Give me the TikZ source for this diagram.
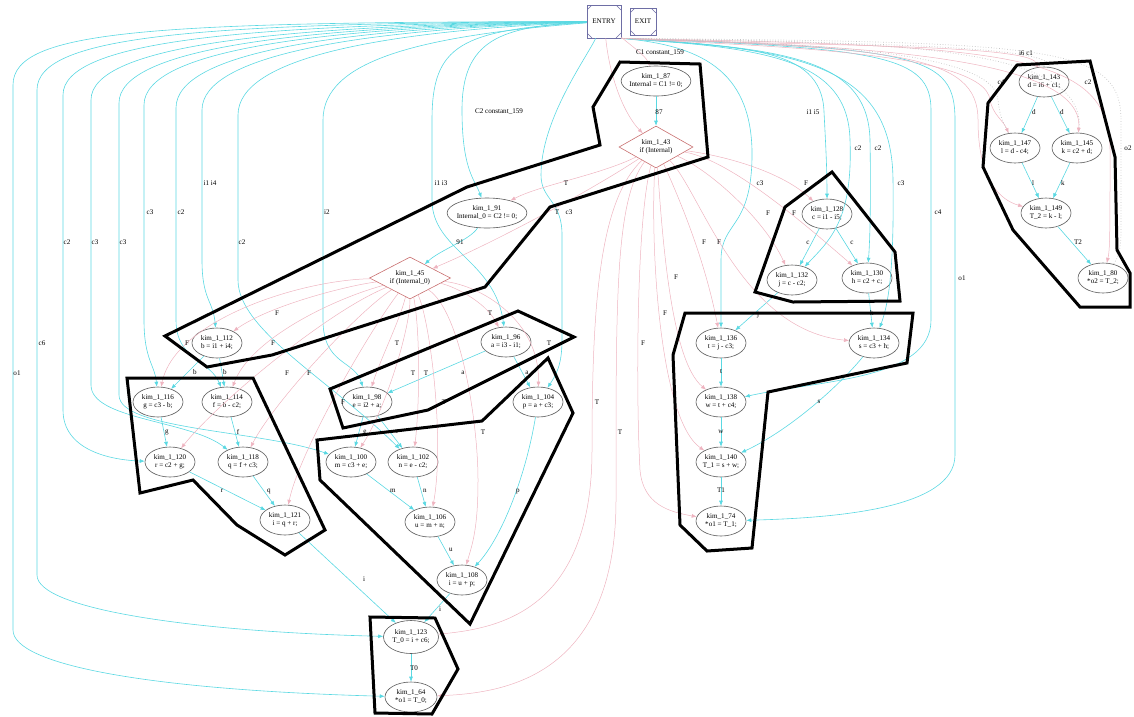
\documentclass[tikz,border=0pt]{standalone}
\usepackage{fontspec}
\setmainfont{Liberation Serif}
\usetikzlibrary{shapes.geometric,arrows.meta}
\definecolor{cyl}{RGB}{90,216,226}
\definecolor{pnk}{RGB}{238,180,192}
\definecolor{ebox}{RGB}{110,110,165}
\definecolor{dia}{RGB}{200,110,110}
\definecolor{ell}{RGB}{90,90,90}
\definecolor{dotg}{RGB}{195,195,195}
\begin{document}
\begin{tikzpicture}[x=1pt,y=-1pt,
 every node/.style={font=\fontsize{7.1}{8}\selectfont},
 stmt/.style={ellipse,draw=ell,line width=0.6pt,minimum width=50pt,minimum height=30pt,inner xsep=-2pt,inner ysep=0pt,align=center},
 cnd/.style={diamond,draw=dia,line width=0.6pt,aspect=2,minimum width=74pt,minimum height=42pt,inner sep=-2pt,align=center},
 msq/.style={rectangle,draw=ebox,line width=0.7pt,inner sep=0pt,
   path picture={\draw[ebox,line width=0.5pt]
     ([yshift=-5pt]path picture bounding box.north west) -- ([xshift=5pt]path picture bounding box.north west)
     ([yshift=-5pt]path picture bounding box.north east) -- ([xshift=-5pt]path picture bounding box.north east)
     ([yshift=5pt]path picture bounding box.south west) -- ([xshift=5pt]path picture bounding box.south west)
     ([yshift=5pt]path picture bounding box.south east) -- ([xshift=-5pt]path picture bounding box.south east);}},
 cy/.style={draw=cyl,line width=0.6pt,-{Latex[length=5pt,width=4pt]}},
 pk/.style={draw=pnk,line width=0.5pt,-{Latex[length=5pt,width=4pt]}},
 dt/.style={draw=dotg,line width=0.7pt,dotted},
 lbl/.style={inner sep=0pt},
 hull/.style={draw=black,line width=3pt,line join=miter}
]
\useasboundingbox (0,0) rectangle (1134,716);

% ---------- nodes ----------
\node[msq,minimum width=34pt,minimum height=33pt] (E) at (604,21.5) {ENTRY};
\node[msq,minimum width=26pt,minimum height=27pt] (X) at (643,21.5) {EXIT};

\node[stmt] (n87) at (656,81) {kim\_1\_87\\Internal = C1 != 0;};
\node[cnd] (n43) at (656,147) {kim\_1\_43\\if (Internal)};
\node[stmt] (n91) at (487,213) {kim\_1\_91\\Internal\_0 = C2 != 0;};
\node[cnd,minimum width=81pt] (n45) at (410,278) {kim\_1\_45\\if (Internal\_0)};

\node[stmt] (n96) at (506,342) {kim\_1\_96\\a = i3 - i1;};
\node[stmt] (n104) at (538,402) {kim\_1\_104\\p = a + c3;};
\node[stmt] (n98) at (367,402) {kim\_1\_98\\e = i2 + a;};
\node[stmt] (n112) at (217,343) {kim\_1\_112\\b = i1 + i4;};
\node[stmt] (n116) at (158,402) {kim\_1\_116\\g = c3 - b;};
\node[stmt] (n114) at (227,402) {kim\_1\_114\\f = b - c2;};
\node[stmt] (n120) at (170,462) {kim\_1\_120\\r = c2 + g;};
\node[stmt] (n118) at (243,462) {kim\_1\_118\\q = f + c3;};
\node[stmt] (n100) at (351,462) {kim\_1\_100\\m = c3 + e;};
\node[stmt] (n102) at (413,462) {kim\_1\_102\\n = e - c2;};
\node[stmt] (n121) at (285,520) {kim\_1\_121\\i = q + r;};
\node[stmt] (n106) at (430,522) {kim\_1\_106\\u = m + n;};
\node[stmt] (n108) at (462,580) {kim\_1\_108\\i = u + p;};
\node[stmt,minimum width=55pt,minimum height=33pt] (n123) at (411,637) {kim\_1\_123\\T\_0 = i + c6;};
\node[stmt,minimum width=52pt] (n64) at (411,697) {kim\_1\_64\\*o1 = T\_0;};

\node[stmt] (n128) at (827,214) {kim\_1\_128\\c = i1 - i5;};
\node[stmt] (n132) at (792,280) {kim\_1\_132\\j = c - c2;};
\node[stmt] (n130) at (867,278) {kim\_1\_130\\h = c2 + c;};
\node[stmt] (n134) at (874,343) {kim\_1\_134\\s = c3 + h;};
\node[stmt] (n136) at (721,343) {kim\_1\_136\\t = j - c3;};
\node[stmt] (n138) at (721,402) {kim\_1\_138\\w = t + c4;};
\node[stmt] (n140) at (721,462) {kim\_1\_140\\T\_1 = s + w;};
\node[stmt] (n74) at (721,521) {kim\_1\_74\\*o1 = T\_1;};

\node[stmt] (n143) at (1044,82) {kim\_1\_143\\d = i6 + c1;};
\node[stmt] (n147) at (1015,148) {kim\_1\_147\\l = d - c4;};
\node[stmt] (n145) at (1077,148) {kim\_1\_145\\k = c2 + d;};
\node[stmt] (n149) at (1046,213) {kim\_1\_149\\T\_2 = k - l;};
\node[stmt] (n80) at (1103,278) {kim\_1\_80\\*o2 = T\_2;};

% ---------- data edges from ENTRY (left) ----------
\draw[cy] (E) .. controls (150,22) and (13,30) .. (13,85) -- (13,630) .. controls (13,665) and (150,690) .. (n64) node[lbl,at={(17,373)}]{o1};
\draw[cy] (E) .. controls (200,23) and (37,35) .. (37,90) -- (37,575) .. controls (37,610) and (200,632) .. (n123) node[lbl,at={(42,343)}]{c6};
\draw[cy] (E) .. controls (250,24) and (63,40) .. (63,95) -- (63,410) .. controls (63,450) and (110,460) .. (n120) node[lbl,at={(67,242)}]{c2};
\draw[cy] (E) .. controls (280,25) and (91,45) .. (91,100) -- (91,385) .. controls (91,420) and (190,420) .. (n118) node[lbl,at={(95,242)}]{c3};
\draw[cy] (E) .. controls (300,26) and (119,48) .. (119,103) -- (119,395) .. controls (119,430) and (260,430) .. (n100) node[lbl,at={(123,242)}]{c3};
\draw[cy] (E) .. controls (320,27) and (144,50) .. (144,105) -- (144,320) .. controls (144,360) and (155,365) .. (n116) node[lbl,at={(150,212)}]{c3};
\draw[cy] (E) .. controls (340,28) and (176,52) .. (176,108) -- (176,320) .. controls (176,360) and (210,360) .. (n114) node[lbl,at={(181,212)}]{c2};
\draw[cy] (E) .. controls (360,29) and (202,55) .. (202,110) -- (202,260) .. controls (202,300) and (213,300) .. (n112) node[lbl,at={(210,183)}]{i1 i4};
\draw[cy] (E) .. controls (380,31) and (238,58) .. (238,115) -- (238,280) .. controls (238,330) and (330,380) .. (n102) node[lbl,at={(242,242)}]{c2};
\draw[cy] (E) .. controls (420,36) and (323,60) .. (323,120) -- (323,320) .. controls (323,365) and (355,360) .. (n98) node[lbl,at={(327,212)}]{i2};

\draw[cy] (E) .. controls (500,26) and (462,40) .. (462,110) .. controls (462,170) and (475,180) .. (n91) node[lbl,at={(499,112)}]{C2 constant\_159};
\draw[cy] (E) .. controls (460,30) and (432,45) .. (432,120) -- (432,200) .. controls (432,250) and (495,260) .. (n96) node[lbl,at={(441,183)}]{i1 i3};
\draw[cy] (E) .. controls (585,60) and (541,120) .. (541,175) .. controls (541,200) and (562,200) .. (562,235) -- (562,340) .. controls (562,365) and (556,375) .. (n104) node[lbl,at={(569,212)}]{c3};

% ---------- data edges from ENTRY (right) ----------
\draw[cy] (E.south east) .. controls (740,48) and (822,45) .. (824,112) .. controls (826,150) and (827,170) .. (n128) node[lbl,at={(813,112)}]{i1 i5};
\draw[cy] (E.south east) .. controls (770,48) and (848,60) .. (850,140) .. controls (853,220) and (830,240) .. (n132) node[lbl,at={(858,148)}]{c2};
\draw[cy] (E.south east) .. controls (790,48) and (868,60) .. (870,140) .. controls (871,200) and (870,240) .. (n130) node[lbl,at={(878,148)}]{c2};
\draw[cy] (E.south east) .. controls (810,48) and (892,70) .. (893,180) .. controls (894,260) and (890,300) .. (n134) node[lbl,at={(901,183)}]{c3};
\draw[cy] (E.south east) .. controls (880,48) and (931,55) .. (931,110) -- (931,320) .. controls (931,380) and (820,380) .. (n138) node[lbl,at={(938,212)}]{c4};
\draw[cy] (E.south east) .. controls (920,48) and (955,55) .. (955,120) -- (955,455) .. controls (955,510) and (830,518) .. (n74) node[lbl,at={(962,278)}]{o1};
\draw[cy] (E.south east) .. controls (700,45) and (750,70) .. (752,150) .. controls (753,230) and (721,220) .. (721,260) -- (n136) node[lbl,at={(760,183)}]{c3};

% ---------- control edges from ENTRY ----------
\draw[pk] (E) .. controls (630,45) and (645,55) .. (n87) node[lbl,at={(660,53)}]{C1 constant\_159};
\draw[pk] (E) .. controls (610,80) and (625,115) .. (n43);
\draw[pk] (E.south east) .. controls (800,46) and (1028,44) .. (n143);
\draw[pk] (E.south east) .. controls (750,46) and (985,50) .. (990,100) .. controls (993,115) and (1003,120) .. (n147);
\draw[pk] (E.south east) .. controls (850,45) and (1085,55) .. (n145);
\draw[pk] (E.south east) .. controls (900,48) and (978,55) .. (978,120) .. controls (978,180) and (1000,200) .. (n149);
\draw[pk] (E.south east) .. controls (1000,46) and (1110,50) .. (1110,150) .. controls (1110,230) and (1110,250) .. (n80);

% ---------- dotted edges to right group ----------
\draw[dt] (E.south east) .. controls (720,43) and (1060,40) .. (n143) node[lbl,at={(1026,53)}]{i6 c1};
\draw[dt] (E.south east) .. controls (760,43) and (995,45) .. (998,100) .. controls (1000,120) and (1005,125) .. (n147) node[lbl,at={(1001,82)}]{c4};
\draw[dt] (E.south east) .. controls (900,42) and (1090,45) .. (n145) node[lbl,at={(1088,82)}]{c2};
\draw[dt] (E.south east) .. controls (1050,42) and (1121,45) .. (1121,120) -- (1121,230) .. controls (1121,250) and (1118,258) .. (n80) node[lbl,at={(1128,148)}]{o2};

% ---------- internal data edges ----------
\draw[cy] (n87) -- (n43) node[lbl,at={(659,112)}]{87};
\draw[cy] (n91) .. controls (470,240) and (440,250) .. (n45) node[lbl,at={(460,242)}]{91};
\draw[cy] (n112) -- (n116) node[lbl,at={(195,372)}]{b};
\draw[cy] (n112) -- (n114) node[lbl,at={(225,372)}]{b};
\draw[cy] (n116) -- (n120) node[lbl,at={(167,432)}]{g};
\draw[cy] (n114) -- (n118) node[lbl,at={(238,432)}]{f};
\draw[cy] (n120) -- (n121) node[lbl,at={(222,491)}]{r};
\draw[cy] (n118) -- (n121) node[lbl,at={(269,492)}]{q};
\draw[cy] (n121) -- (n123) node[lbl,at={(364,579)}]{i};
\draw[cy] (n96) -- (n98) node[lbl,at={(463,373)}]{a};
\draw[cy] (n96) -- (n104) node[lbl,at={(527,373)}]{a};
\draw[cy] (n98) -- (n100) node[lbl,at={(365,432)}]{e};
\draw[cy] (n98) -- (n102) node[lbl,at={(397,432)}]{e};
\draw[cy] (n100) -- (n106) node[lbl,at={(393,491)}]{m};
\draw[cy] (n102) -- (n106) node[lbl,at={(425,491)}]{n};
\draw[cy] (n104) .. controls (525,480) and (500,540) .. (n108) node[lbl,at={(518,492)}]{p};
\draw[cy] (n106) -- (n108) node[lbl,at={(451,550)}]{u};
\draw[cy] (n108) -- (n123) node[lbl,at={(440,609)}]{i};
\draw[cy] (n123) -- (n64) node[lbl,at={(414,668)}]{T0};
\draw[cy] (n128) -- (n132) node[lbl,at={(808,243)}]{c};
\draw[cy] (n128) -- (n130) node[lbl,at={(852,243)}]{c};
\draw[cy] (n132) -- (n136) node[lbl,at={(758,315)}]{j};
\draw[cy] (n130) -- (n134) node[lbl,at={(872,313)}]{h};
\draw[cy] (n134) .. controls (840,385) and (790,430) .. (n140) node[lbl,at={(819,402)}]{s};
\draw[cy] (n136) -- (n138) node[lbl,at={(721,372)}]{t};
\draw[cy] (n138) -- (n140) node[lbl,at={(721,432)}]{w};
\draw[cy] (n140) -- (n74) node[lbl,at={(721,490)}]{T1};
\draw[cy] (n143) -- (n147) node[lbl,at={(1034,112)}]{d};
\draw[cy] (n143) -- (n145) node[lbl,at={(1062,112)}]{d};
\draw[cy] (n147) -- (n149) node[lbl,at={(1033,183)}]{l};
\draw[cy] (n145) -- (n149) node[lbl,at={(1063,183)}]{k};
\draw[cy] (n149) -- (n80) node[lbl,at={(1078,242)}]{T2};

% ---------- control edges from kim_1_43 ----------
\draw[pk] (n43) .. controls (600,175) and (540,185) .. (n91) node[lbl,at={(566,183)}]{T};
\draw[pk] (n43) .. controls (600,185) and (500,240) .. (n45) node[lbl,at={(557,212)}]{T};
\draw[pk] (n43) .. controls (600,200) and (592,300) .. (592,450) .. controls (592,610) and (500,628) .. (n123) node[lbl,at={(597,402)}]{T};
\draw[pk] (n43) .. controls (615,200) and (616,300) .. (616,500) .. controls (616,680) and (500,693) .. (n64) node[lbl,at={(620,432)}]{T};
\draw[pk] (n43) .. controls (636,220) and (636,400) .. (640,470) .. controls (643,505) and (670,512) .. (n74) node[lbl,at={(643,343)}]{F};
\draw[pk] (n43) .. controls (650,250) and (660,420) .. (n140) node[lbl,at={(665,313)}]{F};
\draw[pk] (n43) .. controls (662,230) and (670,360) .. (n138) node[lbl,at={(676,277)}]{F};
\draw[pk] (n43) .. controls (680,200) and (705,260) .. (n136) node[lbl,at={(704,242)}]{F};
\draw[pk] (n43) .. controls (700,190) and (740,330) .. (n134) node[lbl,at={(719,242)}]{F};
\draw[pk] (n43) .. controls (710,170) and (765,220) .. (n132) node[lbl,at={(768,213)}]{F};
\draw[pk] (n43) .. controls (730,160) and (800,220) .. (n130) node[lbl,at={(794,213)}]{F};
\draw[pk] (n43) .. controls (720,155) and (780,170) .. (n128) node[lbl,at={(806,183)}]{F};

% ---------- control edges from kim_1_45 ----------
\draw[pk] (n45) .. controls (350,285) and (270,305) .. (n112) node[lbl,at={(277,313)}]{F};
\draw[pk] (n45) .. controls (300,280) and (175,320) .. (n116) node[lbl,at={(187,343)}]{F};
\draw[pk] (n45) .. controls (330,300) and (250,340) .. (n114) node[lbl,at={(273,343)}]{F};
\draw[pk] (n45) .. controls (330,310) and (220,400) .. (n120) node[lbl,at={(287,373)}]{F};
\draw[pk] (n45) .. controls (360,310) and (275,400) .. (n118) node[lbl,at={(309,373)}]{F};
\draw[pk] (n45) .. controls (370,330) and (300,450) .. (n121) node[lbl,at={(343,402)}]{F};
\draw[pk] (n45) .. controls (450,285) and (485,300) .. (n96) node[lbl,at={(490,313)}]{T};
\draw[pk] (n45) .. controls (400,320) and (380,360) .. (n98) node[lbl,at={(397,343)}]{T};
\draw[pk] (n45) .. controls (410,330) and (385,410) .. (n100) node[lbl,at={(413,373)}]{T};
\draw[pk] (n45) .. controls (420,330) and (420,400) .. (n102) node[lbl,at={(426,373)}]{T};
\draw[pk] (n45) .. controls (430,320) and (445,440) .. (n106) node[lbl,at={(444,402)}]{T};
\draw[pk] (n45) .. controls (460,310) and (478,420) .. (478,480) .. controls (478,530) and (472,545) .. (n108) node[lbl,at={(483,432)}]{T};
\draw[pk] (n45) .. controls (480,285) and (540,320) .. (n104) node[lbl,at={(549,343)}]{T};

% ---------- cluster hulls ----------
\draw[hull] (620,62) -- (700,64) -- (708,157) -- (550,207) -- (485,287) -- (272,355) -- (207,367) -- (165,336) -- (467,187) -- (600,145) -- (593,107) -- cycle;
\draw[hull] (832,172) -- (895,252) -- (900,301) -- (793,302) -- (755,292) -- (785,207) -- cycle;
\draw[hull] (1017,65) -- (1090,61) -- (1115,157) -- (1117,250) -- (1130,273) -- (1130,307) -- (1080,307) -- (1013,230) -- (983,167) -- (988,103) -- cycle;
\draw[hull] (330,389) -- (518,311) -- (574,337) -- (428,410) -- (343,428) -- cycle;
\draw[hull] (317,440) -- (482,421) -- (548,358) -- (573,413) -- (470,624) -- (320,480) -- cycle;
\draw[hull] (127,378) -- (253,378) -- (325,530) -- (285,555) -- (237,525) -- (193,480) -- (140,493) -- cycle;
\draw[hull] (685,313) -- (913,313) -- (907,363) -- (768,392) -- (752,548) -- (707,551) -- (680,525) -- (673,355) -- cycle;
\draw[hull] (370,617) -- (435,618) -- (458,669) -- (432,714) -- (375,713) -- cycle;
\end{tikzpicture}
\end{document}
